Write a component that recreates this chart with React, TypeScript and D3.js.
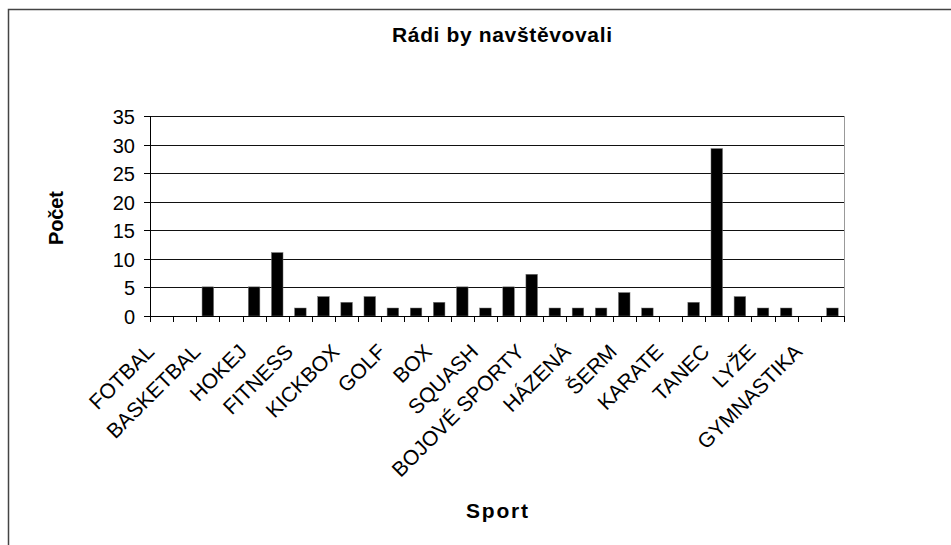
import { useEffect, useRef } from "react";
import * as d3 from "d3";

// Excel showed only every second category label; the skipped names are unreadable
const sports = [
  "FOTBAL", "", "BASKETBAL", "", "HOKEJ", "", "FITNESS", "", "KICKBOX", "",
  "GOLF", "", "BOX", "", "SQUASH", "", "BOJOVÉ SPORTY", "", "HÁZENÁ", "",
  "ŠERM", "", "KARATE", "", "TANEC", "", "LYŽE", "", "GYMNASTIKA", "",
];
const counts = [
  0, 0, 5.1, 0, 5.1, 11.1, 1.4, 3.4, 2.4, 3.4,
  1.4, 1.4, 2.4, 5.1, 1.4, 5.1, 7.3, 1.4, 1.4, 1.4,
  4.1, 1.4, 0, 2.4, 29.3, 3.4, 1.4, 1.4, 0, 1.4,
];
const yTicks = [0, 5, 10, 15, 20, 25, 30, 35];

const W = 951, H = 545;
const FONT = "'Liberation Sans', Arial, sans-serif";

export default function App() {
  const ref = useRef<SVGSVGElement>(null);
  useEffect(() => {
    const el = ref.current;
    if (!el) return;
    const svg = d3.select(el);
    svg.selectAll("*").remove();

    const L = 150, R = 844, T = 116, B = 316;
    const x = d3.scaleBand<number>().domain(sports.map((_d, i) => i)).range([L, R]).paddingInner(0.5).paddingOuter(0.25);
    const y = d3.scaleLinear().domain([0, 35]).range([B, T]);
    const step = x.step();

    // outer frame (runs off the right and bottom edge)
    svg.append("rect").attr("x", 8.5).attr("y", 9.5).attr("width", 1000).attr("height", 1000)
      .attr("fill", "none").attr("stroke", "#444").attr("stroke-width", 1.5);

    // gridlines
    yTicks.filter((t) => t > 0).forEach((t) => {
      svg.append("line").attr("x1", L).attr("x2", R).attr("y1", Math.round(y(t)) + 0.5).attr("y2", Math.round(y(t)) + 0.5)
        .attr("stroke", "#111").attr("stroke-width", 1);
    });
    svg.append("line").attr("x1", R + 0.5).attr("x2", R + 0.5).attr("y1", T).attr("y2", B).attr("stroke", "#999");

    // bars
    svg.append("g").selectAll("rect").data(counts).join("rect")
      .attr("x", (_d, i) => x(i) ?? 0).attr("width", x.bandwidth())
      .attr("y", (d) => y(d)).attr("height", (d) => y(0) - y(d))
      .attr("fill", "#000").attr("stroke", "#777").attr("stroke-width", 0.5);

    // y axis
    svg.append("line").attr("x1", L + 0.5).attr("x2", L + 0.5).attr("y1", T).attr("y2", B + 0.5).attr("stroke", "#000");
    yTicks.forEach((t) => {
      const yy = Math.round(y(t)) + 0.5;
      svg.append("line").attr("x1", L - 6).attr("x2", L).attr("y1", yy).attr("y2", yy).attr("stroke", "#000");
      svg.append("text").attr("x", 135).attr("y", yy + 7).attr("text-anchor", "end")
        .attr("font-family", FONT).attr("font-size", 20).attr("fill", "#000").text(t);
    });

    // x axis
    svg.append("line").attr("x1", L).attr("x2", R + 1).attr("y1", B + 0.5).attr("y2", B + 0.5).attr("stroke", "#000");
    d3.range(sports.length + 1).forEach((i) => {
      const xx = Math.round(L + i * step) + 0.5;
      svg.append("line").attr("x1", xx).attr("x2", xx).attr("y1", B).attr("y2", B + 6).attr("stroke", "#000");
    });
    sports.forEach((s, i) => {
      if (!s) return;
      const cx = (x(i) ?? 0) + x.bandwidth() / 2;
      svg.append("text").attr("transform", `translate(${cx - 6},${353}) rotate(-45)`)
        .attr("text-anchor", "end").attr("font-family", FONT).attr("font-size", 21).attr("fill", "#000").text(s);
    });

    // titles
    svg.append("text").attr("x", 502).attr("y", 42).attr("text-anchor", "middle")
      .attr("font-family", FONT).attr("font-weight", "bold").attr("font-size", 21)
      .attr("textLength", 220).attr("lengthAdjust", "spacing").text("Rádi by navštěvovali");
    svg.append("text").attr("x", 497).attr("y", 518).attr("text-anchor", "middle")
      .attr("font-family", FONT).attr("font-weight", "bold").attr("font-size", 21)
      .attr("textLength", 62).attr("lengthAdjust", "spacing").text("Sport");
    svg.append("text").attr("transform", `translate(63,218) rotate(-90)`).attr("text-anchor", "middle")
      .attr("font-family", FONT).attr("font-weight", "bold").attr("font-size", 20)
      .attr("textLength", 54).attr("lengthAdjust", "spacing").text("Počet");
  }, []);
  return (
    <svg ref={ref} width={W} height={H} style={{ position: "absolute", left: 0, top: 0, background: "#fff" }}
      role="img" aria-label="Rádi by navštěvovali" />
  );
}
